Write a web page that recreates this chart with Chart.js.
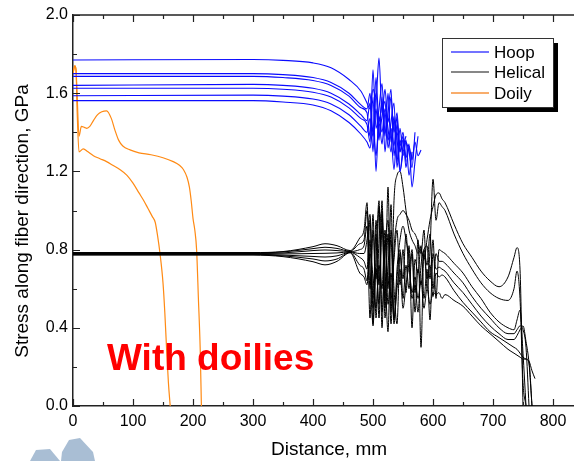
<!DOCTYPE html>
<html lang="en">
<head>
  <meta charset="UTF-8">
  <title>Stress along fiber direction</title>
  <script src="https://cdn.jsdelivr.net/npm/chart.js"></script>
  <style>
    html, body { margin: 0; padding: 0; background: #fff; }
    .chart-box { position: relative; width: 574px; height: 461px; }
  </style>
</head>
<body>
  <div class="chart-box"><canvas id="stressChart"></canvas></div>

  <script>
    // Distance in mm, stress in GPa

    // Hoop (blue) - smooth part then the noisy end
    const hoopX = [0, 300, 350, 400, 430, 460, 480,
      490, 495, 500, 505, 510, 515, 520, 525, 530, 535, 540, 545, 550, 555, 560, 565, 570, 575, 580];
    const hoop1 = [1.77, 1.772, 1.768, 1.755, 1.73, 1.67, 1.61,
      1.55, 1.52, 1.62, 1.58, 1.78, 1.50, 1.62, 1.45, 1.58, 1.40, 1.50, 1.30, 1.38, 1.22, 1.33, 1.26, 1.35, 1.28, 1.31];
    const hoop2 = [1.70, 1.70, 1.695, 1.68, 1.655, 1.60, 1.54,
      1.52, 1.60, 1.40, 1.68, 1.45, 1.55, 1.38, 1.60, 1.35, 1.48, 1.25, 1.42, 1.30, 1.36, 1.18, 1.30, null, null, null];
    const hoop3 = [1.686, 1.686, 1.68, 1.665, 1.64, 1.585, 1.525,
      1.50, 1.38, 1.72, 1.42, 1.52, 1.65, 1.40, 1.50, 1.62, 1.28, 1.44, 1.33, 1.40, 1.27, 1.34, 1.12, 1.25, 1.38, null];
    const hoop4 = [1.64, 1.645, 1.64, 1.625, 1.60, 1.545, 1.49,
      1.46, 1.55, 1.30, 1.60, 1.38, 1.48, 1.56, 1.32, 1.45, 1.55, 1.22, 1.36, 1.28, 1.35, 1.30, 1.22, 1.40, null, null];
    const hoop5 = [1.625, 1.625, 1.62, 1.605, 1.58, 1.525, 1.47,
      1.44, 1.35, 1.58, 1.20, 1.48, 1.40, 1.52, 1.42, 1.30, 1.46, 1.37, 1.20, 1.32, 1.38, null, null, null, null, null];
    const hoop6 = [1.587, 1.59, 1.585, 1.57, 1.545, 1.49, 1.43,
      1.40, 1.47, 1.38, 1.52, 1.36, 1.58, 1.30, 1.47, 1.40, 1.21, 1.40, 1.30, 1.36, 1.25, null, null, null, null, null];
    const hoop7 = [1.562, 1.562, 1.555, 1.54, 1.51, 1.45, 1.39,
      1.35, 1.32, 1.42, 1.28, 1.45, 1.34, 1.50, 1.36, 1.42, 1.33, 1.48, 1.20, 1.30, null, null, null, null, null, null];

    // Helical (black) - flat band, noisy middle, falling tail
    const helicalX = [0, 300, 350, 400, 420, 440, 462, 478,
      485, 490, 495, 500, 505, 510, 515, 520, 525, 530, 535, 540, 545, 550, 555, 560,
      565, 570, 575, 580, 585, 590, 595, 600, 605, 610, 615,
      620, 635, 650, 665, 680, 695, 710, 725, 735, 740, 745, 750, 755, 760, 765, 770];
    const helical1 = [0.785, 0.785, 0.79, 0.815, 0.83, 0.82, 0.795, 0.86,
      0.90, 1.04, 0.60, 0.98, 0.45, 0.85, 1.00, 0.55, 1.12, 0.48, 1.05, 1.18, 1.20, 1.12, 1.00, 0.90,
      0.85, 0.82, 0.78, 0.80, 0.75, 0.85, 0.95, 1.02, 1.08, 1.09, 1.06,
      1.04, 0.93, 0.83, 0.76, 0.69, 0.64, 0.61, 0.66, 0.76, 0.81, 0.70, 0.00, null, null, null, null];
    const helical2 = [0.783, 0.783, 0.788, 0.805, 0.812, 0.806, 0.792, 0.83,
      0.85, 1.00, 0.70, 0.42, 0.95, 0.62, 1.05, 0.50, 0.88, 0.42, 0.80, 0.95, 0.98, 1.00, 0.98, 0.95,
      0.90, 0.88, 0.84, 0.78, 0.90, 0.60, 0.80, 1.16, 0.95, 1.04, 1.02,
      1.00, 0.88, 0.78, 0.70, 0.63, 0.58, 0.55, 0.54, 0.60, 0.69, 0.55, 0.12, 0.00, null, null, null];
    const helical3 = [0.780, 0.780, 0.783, 0.795, 0.798, 0.795, 0.790, 0.80,
      0.82, 0.92, 0.45, 0.90, 0.65, 1.02, 0.40, 0.85, 0.60, 1.03, 0.44, 0.70, 0.85, 0.92, 0.85, 0.75,
      0.55, 0.62, 0.48, 0.72, 0.80, 0.82, 0.65, 0.85, 0.55, 0.80, 0.79,
      0.78, 0.73, 0.68, 0.61, 0.55, 0.48, 0.43, 0.40, 0.39, 0.44, 0.49, 0.27, 0.00, null, null, null];
    const helical4 = [0.778, 0.778, 0.778, 0.780, 0.781, 0.783, 0.788, 0.78,
      0.78, 0.85, 0.98, 0.55, 0.88, 0.45, 0.92, 0.70, 0.38, 0.90, 0.60, 0.42, 0.78, 0.65, 0.88, 0.70,
      0.80, 0.58, 0.85, 0.30, 0.80, 0.72, 0.88, 0.60, 0.78, 0.74, 0.74,
      0.73, 0.68, 0.63, 0.56, 0.50, 0.45, 0.40, 0.37, 0.37, 0.39, 0.41, 0.39, 0.30, 0.00, null, null];
    const helical5 = [0.776, 0.776, 0.772, 0.765, 0.762, 0.768, 0.786, 0.76,
      0.74, 0.70, 0.95, 0.50, 0.75, 1.05, 0.48, 0.80, 0.95, 0.55, 0.75, 0.90, 0.62, 0.80, 0.58, 0.82,
      0.40, 0.75, 0.68, 0.82, 0.55, 0.70, 0.44, 0.78, 0.70, 0.71, 0.70,
      0.69, 0.63, 0.58, 0.52, 0.46, 0.41, 0.37, 0.34, 0.34, 0.36, 0.39, 0.41, 0.33, 0.22, 0.00, null];
    const helical6 = [0.774, 0.774, 0.768, 0.752, 0.742, 0.752, 0.785, 0.72,
      0.70, 0.64, 0.85, 0.41, 0.70, 0.52, 0.98, 0.45, 0.72, 0.85, 0.42, 0.65, 0.80, 0.55, 0.72, 0.60,
      0.78, 0.48, 0.70, 0.62, 0.78, 0.65, 0.72, 0.56, 0.68, 0.66, 0.67,
      0.66, 0.59, 0.53, 0.48, 0.43, 0.38, 0.35, 0.32, 0.30, 0.29, 0.27, 0.25, 0.24, 0.22, 0.00, null];
    const helical7 = [0.772, 0.772, 0.764, 0.738, 0.722, 0.740, 0.784, 0.68,
      0.66, 0.62, 0.78, 0.66, 0.50, 0.72, 0.60, 0.90, 0.52, 0.68, 0.45, 0.60, 0.70, 0.50, 0.62, 0.70,
      0.58, 0.66, 0.55, 0.64, 0.50, 0.60, 0.52, 0.58, 0.57, 0.58, 0.55,
      0.57, 0.54, 0.51, 0.46, 0.41, 0.37, 0.33, 0.29, 0.27, 0.26, 0.25, 0.24, 0.24, 0.23, 0.18, 0.14];

    // Doily (orange)
    const doilyUpperX = [0, 3, 5, 7, 10, 14, 19, 23, 28, 34, 41, 48, 56, 64, 70, 76, 83, 95, 110, 130,
      150, 167, 178, 184, 190, 194, 197, 200, 203, 206, 209, 212, 214];
    const doilyUpper = [1.70, 1.74, 1.72, 1.58, 1.38, 1.43, 1.425, 1.42, 1.43, 1.46, 1.49, 1.505, 1.51, 1.47,
      1.41, 1.36, 1.33, 1.31, 1.295, 1.285, 1.27, 1.25, 1.23, 1.21, 1.17, 1.12, 1.05, 0.96, 0.90, 0.80,
      0.55, 0.29, 0.0];
    const doilyLowerX = [0, 3, 5, 7, 10, 17, 25, 34, 45, 56, 67, 78, 90, 100, 110, 118, 125, 132, 137,
      141, 145, 150, 153, 156, 159, 162];
    const doilyLower = [1.70, 1.74, 1.72, 1.50, 1.30, 1.315, 1.30, 1.28, 1.265, 1.25, 1.23, 1.21, 1.18,
      1.14, 1.09, 1.05, 1.01, 0.97, 0.94, 0.87, 0.78, 0.63, 0.48, 0.29, 0.12, 0.0];

    // axis ticks
    const xMajorTicks = [0, 100, 200, 300, 400, 500, 600, 700, 800];
    const xMinorTicks = [50, 150, 250, 350, 450, 550, 650, 750];
    const yMajorTicks = [0, 0.4, 0.8, 1.2, 1.6, 2.0];
    const yMinorTicks = [0.2, 0.6, 1.0, 1.4, 1.8];

    const seriesNames = ['Hoop', 'Helical', 'Doily'];
    const hoopColor = '#0a0aff';
    const helicalColor = '#000000';
    const doilyColor = '#ff8a14';

    function toPoints(xs, ys) {
      return xs.map((x, i) => ({ x: x, y: ys[i] }));
    }

    function makeSet(label, xs, ys, color, width) {
      return {
        label: label,
        data: toPoints(xs, ys),
        borderColor: color,
        borderWidth: width,
        pointRadius: 0,
        fill: false,
        cubicInterpolationMode: 'monotone',
        spanGaps: false
      };
    }

    const datasets = [];
    // hoop first so it ends up drawn on top
    [hoop1, hoop2, hoop3, hoop4, hoop5, hoop6, hoop7].forEach(ys => {
      datasets.push(makeSet(seriesNames[0], hoopX, ys, hoopColor, 1.1));
    });
    [helical1, helical2, helical3, helical4, helical5, helical6, helical7].forEach(ys => {
      datasets.push(makeSet(seriesNames[1], helicalX, ys, helicalColor, 1));
    });
    datasets.push(makeSet(seriesNames[2], doilyUpperX, doilyUpper, doilyColor, 1.2));
    datasets.push(makeSet(seriesNames[2], doilyLowerX, doilyLower, doilyColor, 1.2));

    const font = "'Liberation Sans', Arial, sans-serif";

    // frame, inward ticks, legend box, axis titles, annotation
    const decorations = {
      id: 'decorations',
      afterDatasetsDraw(chart) {
        const ctx = chart.ctx;
        const a = chart.chartArea;
        const xs = chart.scales.x;
        const ys = chart.scales.y;
        ctx.save();
        ctx.strokeStyle = '#222';
        ctx.lineWidth = 1.5;
        ctx.beginPath();
        ctx.moveTo(a.left, a.top);
        ctx.lineTo(a.right, a.top);
        ctx.stroke();

        ctx.lineWidth = 1.2;
        ctx.beginPath();
        xMajorTicks.concat(xMinorTicks).forEach(v => {
          const len = xMajorTicks.includes(v) ? 7 : 4;
          const px = Math.round(xs.getPixelForValue(v)) + 0.5;
          ctx.moveTo(px, a.bottom);
          ctx.lineTo(px, a.bottom - len);
          ctx.moveTo(px, a.top);
          ctx.lineTo(px, a.top + len);
        });
        yMajorTicks.concat(yMinorTicks).forEach(v => {
          const len = yMajorTicks.includes(v) ? 7 : 4;
          const py = Math.round(ys.getPixelForValue(v)) + 0.5;
          ctx.moveTo(a.left, py);
          ctx.lineTo(a.left + len, py);
        });
        ctx.stroke();
        ctx.restore();
      },
      afterDraw(chart) {
        const ctx = chart.ctx;
        ctx.save();

        // "With doilies" note
        ctx.fillStyle = '#ff0000';
        ctx.font = 'bold 37px ' + font;
        ctx.textAlign = 'left';
        ctx.textBaseline = 'alphabetic';
        ctx.fillText('With doilies', 107, 370);

        // legend with drop shadow
        ctx.fillStyle = '#000';
        ctx.fillRect(447, 43, 111, 69);
        ctx.fillStyle = '#fff';
        ctx.fillRect(442, 38, 111, 69);
        ctx.strokeStyle = '#333';
        ctx.lineWidth = 1;
        ctx.strokeRect(442.5, 38.5, 111, 69);

        const legendRows = [
          { y: 52, color: '#7373ff', width: 2 },
          { y: 72, color: '#111', width: 1.2 },
          { y: 93, color: '#f8ad6c', width: 2 }
        ];
        ctx.font = '17px ' + font;
        ctx.textBaseline = 'middle';
        legendRows.forEach((r, i) => {
          ctx.strokeStyle = r.color;
          ctx.lineWidth = r.width;
          ctx.beginPath();
          ctx.moveTo(451, r.y);
          ctx.lineTo(489, r.y);
          ctx.stroke();
          ctx.fillStyle = '#000';
          ctx.fillText(seriesNames[i], 494, r.y + 1);
        });

        // axis titles
        ctx.font = '19px ' + font;
        ctx.textAlign = 'center';
        ctx.fillText('Distance, mm', 329, 450);
        ctx.translate(23, 221);
        ctx.rotate(-Math.PI / 2);
        ctx.fillText('Stress along fiber direction, GPa', 0, 0);
        ctx.restore();

        // faint logo fragments in the lower left corner
        ctx.save();
        ctx.fillStyle = '#a9bed4';
        ctx.beginPath();
        ctx.moveTo(30, 461); ctx.lineTo(36, 450); ctx.lineTo(50, 449); ctx.lineTo(60, 461);
        ctx.closePath();
        ctx.fill();
        ctx.beginPath();
        ctx.moveTo(61, 461); ctx.lineTo(62, 452); ctx.lineTo(69, 440); ctx.lineTo(80, 438);
        ctx.lineTo(93, 452); ctx.lineTo(95, 461);
        ctx.closePath();
        ctx.fill();
        ctx.restore();
      }
    };

    new Chart(document.getElementById('stressChart').getContext('2d'), {
      type: 'line',
      data: { datasets: datasets },
      options: {
        responsive: true,
        maintainAspectRatio: false,
        animation: false,
        layout: { padding: { top: 15, right: 0, left: 0, bottom: 0 } },
        plugins: {
          legend: { display: false },
          tooltip: { enabled: false }
        },
        scales: {
          x: {
            type: 'linear',
            min: 0,
            max: 835,
            grid: { display: false, drawTicks: false },
            border: { display: true, color: '#222', width: 1.5 },
            ticks: {
              stepSize: 100,
              padding: 6,
              autoSkip: false,
              includeBounds: false,
              color: '#000',
              font: { family: font, size: 16 },
              maxRotation: 0,
              callback: v => (v % 100 === 0 ? String(v) : '')
            },
            afterFit: s => { s.height = 55; s.paddingLeft = 0; s.paddingRight = 0; }
          },
          y: {
            type: 'linear',
            min: 0,
            max: 2.0,
            grid: { display: false, drawTicks: false },
            border: { display: true, color: '#222', width: 1.5 },
            ticks: {
              stepSize: 0.4,
              padding: 5,
              color: '#000',
              font: { family: font, size: 16 },
              callback: v => Number(v).toFixed(1)
            },
            afterFit: s => { s.width = 73; }
          }
        }
      },
      plugins: [decorations]
    });
  </script>
</body>
</html>
